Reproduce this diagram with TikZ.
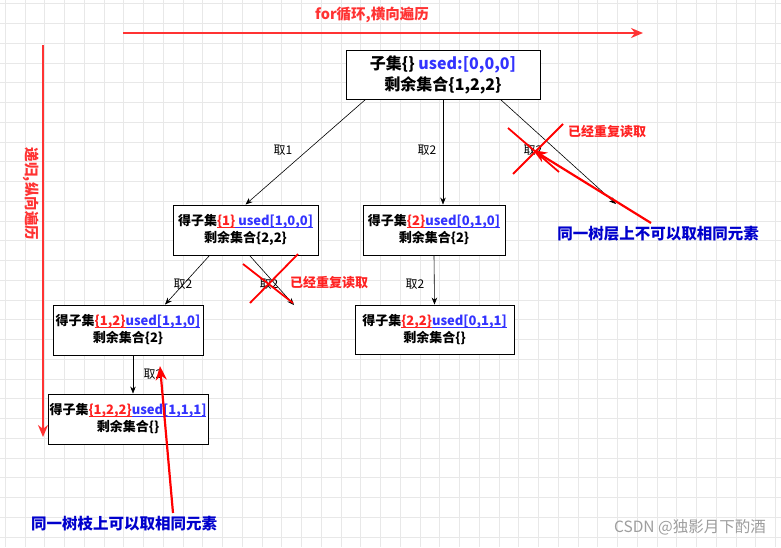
\documentclass[tikz,border=0pt]{standalone}
\usepackage{fontspec}
\setmainfont{Noto Sans CJK SC}
\usetikzlibrary{arrows.meta}
\definecolor{nred}{HTML}{FF2222}
\definecolor{ared}{HTML}{FF3333}
\definecolor{nblue}{HTML}{3333FF}
\definecolor{dblue}{HTML}{0000CC}
\definecolor{gridc}{HTML}{E8E8E8}
\newcommand\myul[1]{\setbox0\hbox{#1}\rlap{\rule[-1.8pt]{\wd0}{0.6pt}}\box0}
\begin{document}
\begin{tikzpicture}[x=1pt,y=-1pt,
  box/.style={draw=black,line width=0.9pt,fill=white,align=center,inner sep=0pt},
  rootbox/.style={box,font=\fontsize{16}{21}\selectfont\bfseries},
  subbox/.style={box,font=\fontsize{13}{17}\selectfont\bfseries},
  edge/.style={draw=black,line width=0.6pt,-{Stealth[length=7pt,width=5.5pt]}},
  lbl/.style={font=\fontsize{12}{14}\selectfont,inner sep=0pt},
  warn/.style={font=\fontsize{13}{15}\selectfont\bfseries,text=nred,inner sep=0pt},
  note/.style={font=\fontsize{15.5}{18}\selectfont\bfseries,text=dblue,inner sep=0pt},
  cross/.style={draw=red,line width=1.8pt},
  redarrow/.style={draw=red,line width=2.2pt,-{Stealth[length=14pt,width=11pt]}},
  dirarrow/.style={draw=ared,line width=2pt,-{Stealth[length=12pt,width=10pt]}},
  dirtext/.style={font=\fontsize{14.5}{17}\selectfont\bfseries,text=ared,inner sep=0pt}]
\useasboundingbox (0,0) rectangle (781,547);
\fill[white] (0,0) rectangle (781,547);
% grid
\foreach \i in {0,...,40} {\draw[gridc,line width=0.5pt] ({5.05+\i*19.75},0) -- ({5.05+\i*19.75},547);}
\foreach \j in {0,...,28} {\draw[gridc,line width=0.5pt] (0,{3.5+\j*19.75}) -- (781,{3.5+\j*19.75});}
% direction arrows
\coordinate (h1) at (123,33);
\coordinate (h2) at (643,33);
\draw[dirarrow] (h1) -- (h2);
\node[dirtext] (htext) at (372,15) {for循环,横向遍历};
\coordinate (v1) at (43,45);
\coordinate (v2) at (43,437);
\draw[dirarrow] (v1) -- (v2);
\node[dirtext,rotate=-90] (vtext) at (31,194) {递归,纵向遍历};
% nodes
\node[rootbox,minimum width=194pt,minimum height=49pt] (root) at (443,74.5)
  {子集\{\} \textcolor{nblue}{used:[0,0,0]}\\剩余集合\{1,2,2\}};
\node[subbox,minimum width=145pt,minimum height=50pt] (A) at (245.5,230)
  {得子集\textcolor{nred}{\myul{\{1\}}}\textcolor{nblue}{\myul{ used[1,0,0]}}\\剩余集合\{2,2\}};
\node[subbox,minimum width=142pt,minimum height=50pt] (B) at (434,230)
  {得子集\textcolor{nred}{\myul{\{2\}}}\textcolor{nblue}{\myul{used[0,1,0]}}\\剩余集合\{2\}};
\node[subbox,minimum width=150pt,minimum height=50pt] (C) at (128,330)
  {得子集\textcolor{nred}{\myul{\{1,2\}}}\textcolor{nblue}{\myul{used[1,1,0]}}\\剩余集合\{2\}};
\node[subbox,minimum width=159pt,minimum height=49pt] (D) at (434.5,329.5)
  {得子集\textcolor{nred}{\myul{\{2,2\}}}\textcolor{nblue}{\myul{used[0,1,1]}}\\剩余集合\{\}};
\node[subbox,minimum width=160pt,minimum height=50pt] (E) at (128,419)
  {得子集\textcolor{nred}{\myul{\{1,2,2\}}}\textcolor{nblue}{\myul{used[1,1,1]}}\\剩余集合\{\}};
% edges
\coordinate (r1) at (616,204);
\coordinate (r2) at (294,305);
\draw[edge] ([xshift=20pt]root.south west) -- (A.north);
\draw[edge] (root.south) -- (B.north -| root.south);
\draw[edge] ([xshift=-40pt]root.south east) -- (r1);
\draw[edge] ([xshift=37pt]A.south west) -- ([xshift=37pt]C.north);
\draw[edge] ([xshift=77pt]A.south west) -- (r2);
\draw[edge] (B.south) -- (D.north);
\draw[edge] ([xshift=5pt]C.south) -- ([xshift=5pt]E.north);
% edge labels
\node[lbl] (l1) at (283,150) {取1};
\node[lbl] (l2) at (427,150) {取2};
\node[lbl] (l3) at (533,150) {取2};
\node[lbl] (l4) at (183,284) {取2};
\node[lbl] (l5) at (269,284) {取2};
\node[lbl] (l6) at (415,284) {取2};
\node[lbl] (l7) at (153,374) {取2};
% crosses
\draw[cross] (508,128) -- (559,172);
\draw[cross] (563,124) -- (513,174);
\draw[cross] (243,264) -- (293,303);
\draw[cross] (298,254) -- (250,303);
\node[warn] (w1) at (607,132) {已经重复读取};
\node[warn] (w2) at (329,283) {已经重复读取};
% notes
\node[note] (n1) at (658,234) {同一树层上不可以取相同元素};
\node[note] (n2) at (124,524) {同一树枝上可以取相同元素};
\coordinate (n1s) at (651,223);
\coordinate (n2s) at (173,513);
\draw[redarrow] (n1s) -- (l3.center);
\draw[redarrow] (n2s) -- (160,366);
% watermark
\node[font=\fontsize{15.5}{18}\selectfont,text=black!38,anchor=east,inner sep=0pt] (wm) at (766,527) {CSDN @独影月下酌酒};
\end{tikzpicture}
\end{document}
